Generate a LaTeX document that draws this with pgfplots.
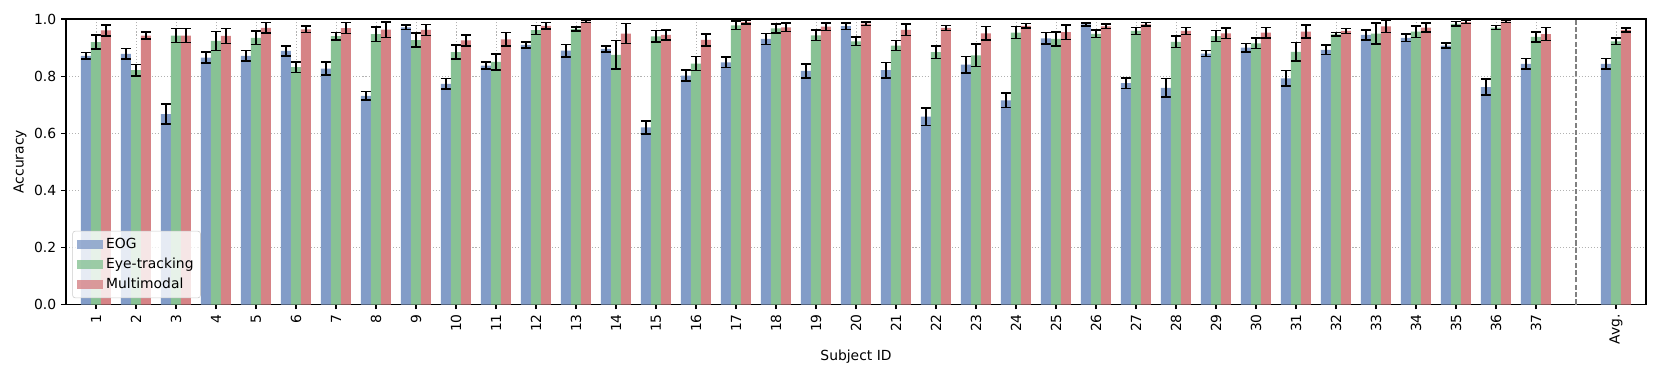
\documentclass[border=0pt]{standalone}
\usepackage{pgfplots}
\usepackage{pgfplotstable}
\pgfplotsset{compat=1.18}
\usepackage{fontspec}
\setmainfont{DejaVu Sans}

\definecolor{eogc}{RGB}{130,156,200}
\definecolor{eyec}{RGB}{136,194,149}
\definecolor{mmc}{RGB}{214,131,134}

% subject, mean accuracy, error
\pgfplotstableread{
x y e
1 0.871 0.012
2 0.878 0.019
3 0.667 0.035
4 0.865 0.019
5 0.871 0.018
6 0.888 0.018
7 0.826 0.023
8 0.731 0.015
9 0.971 0.008
10 0.773 0.018
11 0.837 0.012
12 0.909 0.011
13 0.889 0.022
14 0.895 0.010
15 0.620 0.023
16 0.802 0.020
17 0.848 0.018
18 0.930 0.020
19 0.818 0.024
20 0.975 0.011
21 0.821 0.027
22 0.658 0.031
23 0.840 0.029
24 0.715 0.025
25 0.932 0.020
26 0.981 0.005
27 0.775 0.019
28 0.759 0.033
29 0.879 0.010
30 0.900 0.015
31 0.792 0.027
32 0.892 0.016
33 0.944 0.017
34 0.934 0.013
35 0.907 0.009
36 0.761 0.028
37 0.843 0.019
39 0.843 0.018
}\eog

\pgfplotstableread{
x y e
1 0.919 0.025
2 0.821 0.020
3 0.942 0.025
4 0.923 0.034
5 0.934 0.024
6 0.831 0.019
7 0.940 0.013
8 0.947 0.025
9 0.926 0.025
10 0.884 0.025
11 0.850 0.028
12 0.961 0.016
13 0.965 0.007
14 0.874 0.050
15 0.939 0.020
16 0.844 0.025
17 0.978 0.015
18 0.967 0.016
19 0.943 0.019
20 0.922 0.015
21 0.907 0.017
22 0.884 0.022
23 0.873 0.039
24 0.952 0.021
25 0.930 0.024
26 0.948 0.013
27 0.958 0.012
28 0.920 0.020
29 0.940 0.019
30 0.915 0.018
31 0.885 0.032
32 0.946 0.006
33 0.949 0.037
34 0.956 0.020
35 0.983 0.008
36 0.970 0.007
37 0.937 0.018
39 0.922 0.012
}\eye

\pgfplotstableread{
x y e
1 0.960 0.019
2 0.942 0.012
3 0.942 0.024
4 0.941 0.026
5 0.969 0.018
6 0.964 0.011
7 0.968 0.019
8 0.963 0.027
9 0.962 0.019
10 0.925 0.019
11 0.929 0.023
12 0.976 0.011
13 0.991 0.003
14 0.949 0.035
15 0.944 0.018
16 0.927 0.021
17 0.990 0.007
18 0.971 0.015
19 0.973 0.013
20 0.984 0.006
21 0.962 0.020
22 0.969 0.009
23 0.950 0.023
24 0.976 0.008
25 0.954 0.025
26 0.974 0.008
27 0.981 0.006
28 0.958 0.012
29 0.950 0.018
30 0.952 0.018
31 0.956 0.023
32 0.958 0.009
33 0.974 0.022
34 0.970 0.016
35 0.989 0.005
36 0.991 0.004
37 0.947 0.023
39 0.962 0.007
}\mm

\begin{document}
\begin{tikzpicture}
\useasboundingbox (-47.52pt,-53.64pt) rectangle ++(1195.2pt,272.88pt);
\begin{axis}[
    scale only axis,
    width=1137.6pt, height=205.56pt,
    ybar, bar width=0.25,
    xmin=0.25, xmax=39.75,
    ymin=0, ymax=1,
    xtick={1,2,...,37,39},
    xticklabels={1,2,3,4,5,6,7,8,9,10,11,12,13,14,15,16,17,18,19,20,21,22,23,24,25,26,27,28,29,30,31,32,33,34,35,36,37,Avg.},
    x tick label style={rotate=90, anchor=east},
    ytick={0,0.2,...,1.0},
    yticklabel style={/pgf/number format/.cd, fixed, fixed zerofill, precision=1},
    /pgf/number format/assume math mode=true,
    tick align=outside, tick pos=left,
    major tick length=3.5pt,
    tick style={black, line width=0.8pt},
    axis line style={line width=0.8pt, black},
    grid=major,
    major grid style={black!30, line width=0.6pt, dash pattern=on 0.8pt off 1.4pt},
    xlabel={Subject ID},
    ylabel={Accuracy},
    xlabel style={at={(axis description cs:0.5,-0.184)}, anchor=center},
    ylabel style={at={(axis description cs:-0.0291,0.5)}, anchor=center},
    error bars/y dir=both, error bars/y explicit,
    error bars/error bar style={black, line width=1.1pt},
    error bars/error mark options={black, line width=1.1pt, mark size=3.6pt, rotate=90},
    legend style={at={(0.004,0.022)}, anchor=south west, draw=black!20,
        rounded corners=2pt, fill=white, fill opacity=0.8, text opacity=1,
        inner sep=3pt, row sep=1.5pt},
    legend cell align=left,
]
\addplot[fill=eogc, draw=none, bar shift=-0.25,
    legend image code/.code={\fill[eogc, sharp corners] (0pt,-3.3pt) rectangle (19.2pt,3.3pt);}]
    table[x=x, y=y, y error=e] {\eog};
\addlegendentry{EOG}
\addplot[fill=eyec, draw=none, bar shift=0,
    legend image code/.code={\fill[eyec, sharp corners] (0pt,-3.3pt) rectangle (19.2pt,3.3pt);}]
    table[x=x, y=y, y error=e] {\eye};
\addlegendentry{Eye-tracking}
\addplot[fill=mmc, draw=none, bar shift=0.25,
    legend image code/.code={\fill[mmc, sharp corners] (0pt,-3.3pt) rectangle (19.2pt,3.3pt);}]
    table[x=x, y=y, y error=e] {\mm};
\addlegendentry{Multimodal}
\addplot[sharp plot, forget plot, black!50, line width=1.1pt,
    dash pattern=on 3.7pt off 1.6pt, no markers, error bars/y dir=none]
    coordinates {(38,0) (38,1)};
\end{axis}
\end{tikzpicture}
\end{document}
